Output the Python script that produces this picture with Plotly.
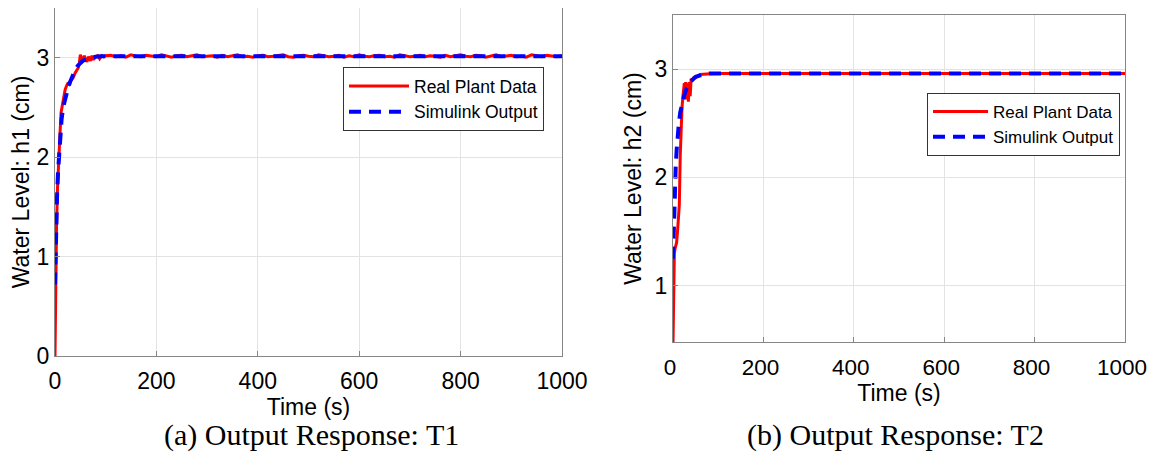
import plotly.graph_objects as go

# page body has an 8px default margin; the figure is sized to fit inside the window
OFF = 8
W, H = 1155 - 2 * OFF, 461 - 2 * OFF

# ---------------- data: (a) T1 ----------------
t1_real = [0, 1, 2, 3, 5, 7, 10, 12, 15, 18, 20, 23, 25, 28, 30, 33, 36, 40, 43, 46, 48,
           50, 52, 55, 58, 60, 63, 66, 70, 73, 76, 80, 84, 88, 92, 96,
           100, 110, 120, 130, 140, 150, 160, 170, 180, 190, 200, 210, 220, 230, 240, 250,
           260, 270, 280, 290, 300, 310, 320, 330, 340, 350, 360, 370, 380, 390, 400, 410,
           420, 430, 440, 450, 460, 470, 480, 490, 500, 510, 520, 530, 540, 550, 560, 570,
           580, 590, 600, 610, 620, 630, 640, 650, 660, 670, 680, 690, 700, 710, 720, 730,
           740, 750, 760, 770, 780, 790, 800, 810, 820, 830, 840, 850, 860, 870, 880, 890,
           900, 910, 920, 930, 940, 950, 960, 970, 980, 990, 1000]
h1_real = [0.0, 0.6, 1.0, 1.3, 1.7, 2.0, 2.25, 2.45, 2.55, 2.62, 2.68, 2.72, 2.74, 2.73, 2.76, 2.78, 2.8, 2.85, 2.88, 2.9, 2.95,
           3.03, 3.0, 2.97, 3.02, 2.98, 2.96, 3.01, 2.97, 3.02, 2.98, 3.01, 3.02, 2.99, 3.02, 3.01,
           3.02, 3.025, 3.01, 3.02, 3.005, 3.03, 3.015, 3.01, 3.025, 3.02, 3.01, 3.03, 3.015, 3.005, 3.02, 3.025,
           3.01, 3.02, 3.03, 3.01, 3.015, 3.02, 3.005, 3.025, 3.01, 3.02, 3.03, 3.01, 3.015, 3.005, 3.02, 3.025,
           3.01, 3.015, 3.02, 3.03, 3.01, 3.005, 3.02, 3.025, 3.015, 3.01, 3.03, 3.02, 3.01, 3.015, 3.025, 3.005,
           3.02, 3.01, 3.03, 3.015, 3.01, 3.02, 3.025, 3.01, 3.015, 3.005, 3.03, 3.02, 3.01, 3.015, 3.025, 3.01,
           3.02, 3.015, 3.005, 3.025, 3.01, 3.02, 3.03, 3.015, 3.01, 3.025, 3.02, 3.005, 3.015, 3.03, 3.01, 3.02,
           3.025, 3.01, 3.015, 3.005, 3.03, 3.02, 3.01, 3.025, 3.015, 3.01, 3.02]
t1_sim = [0, 1, 2, 4, 6, 8, 10, 13, 16, 20, 25, 30, 35, 40, 45, 50, 55, 60, 70, 80, 90, 100, 1000]
h1_sim = [0.72, 1.0, 1.3, 1.6, 1.85, 2.05, 2.2, 2.38, 2.5, 2.6, 2.68, 2.76, 2.83, 2.88, 2.92, 2.95, 2.97, 2.98,
          3.0, 3.01, 3.015, 3.015, 3.015]

# ---------------- data: (b) T2 ----------------
t2_real = [0, 1, 2, 3, 5, 8, 10, 12, 14, 16, 18, 20, 22, 25, 27, 28, 30, 32, 34, 36, 38, 40, 43, 46, 50,
           55, 60, 70, 80, 90, 100, 1000]
h2_real = [0.45, 0.9, 1.15, 1.3, 1.35, 1.4, 1.5, 1.6, 1.75, 2.2, 2.5, 2.65, 2.75, 2.87, 2.8, 2.88, 2.72, 2.87,
           2.7, 2.88, 2.75, 2.9, 2.9, 2.92, 2.92, 2.94, 2.95, 2.955, 2.96, 2.96, 2.96, 2.96]
t2_sim = [0, 2, 4, 6, 8, 10, 13, 16, 20, 25, 30, 35, 40, 50, 60, 70, 80, 100, 1000]
h2_sim = [1.25, 1.6, 1.9, 2.1, 2.25, 2.38, 2.5, 2.6, 2.68, 2.76, 2.82, 2.86, 2.89, 2.93, 2.945, 2.955, 2.96, 2.96, 2.96]

x_ticks = [0, 200, 400, 600, 800, 1000]
y1_ticks = [0, 1, 2, 3]
y2_ticks = [1, 2, 3]
captions = ["(a) Output Response: T1", "(b) Output Response: T2"]
legend_names = ["Real Plant Data", "Simulink Output"]

RED = "#ff0000"
BLUE = "#0000ff"
SANS = "Liberation Sans, Arial, Helvetica, sans-serif"
SERIF = "Liberation Serif, serif"

fig = go.Figure()

fig.add_trace(go.Scatter(x=t1_real, y=h1_real, mode="lines", name=legend_names[0],
                         line=dict(color=RED, width=3), xaxis="x", yaxis="y", legend="legend"))
fig.add_trace(go.Scatter(x=t1_sim, y=h1_sim, mode="lines", name=legend_names[1],
                         line=dict(color=BLUE, width=4, dash="12px,8px"), xaxis="x", yaxis="y", legend="legend"))
fig.add_trace(go.Scatter(x=t2_real, y=h2_real, mode="lines", name=legend_names[0],
                         line=dict(color=RED, width=3), xaxis="x2", yaxis="y2", legend="legend2"))
fig.add_trace(go.Scatter(x=t2_sim, y=h2_sim, mode="lines", name=legend_names[1],
                         line=dict(color=BLUE, width=4, dash="12px,8px"), xaxis="x2", yaxis="y2", legend="legend2"))

def px_x(p):
    return (p - OFF) / W

def px_y(p):
    return 1 - (p - OFF) / H

axis_common = dict(showline=True, mirror=True, linecolor="#868686", linewidth=1.3,
                   showgrid=True, gridcolor="#e3e3e3", gridwidth=1, automargin=False,
                   ticks="inside", ticklen=5, tickcolor="#868686", zeroline=False,
                   ticklabeloverflow="allow",
                   tickfont=dict(family=SANS, size=23, color="#000"))

fig.update_layout(
    width=W, height=H,
    paper_bgcolor="white", plot_bgcolor="white",
    margin=dict(l=0, r=0, t=0, b=0, autoexpand=False),
    xaxis=dict(domain=[px_x(55), px_x(562)], range=[0, 1000], tickvals=x_ticks, anchor="y",
               ticklabelstandoff=4,
               title=dict(text="Time (s)", font=dict(family=SANS, size=23, color="#000"), standoff=0),
               **axis_common),
    yaxis=dict(domain=[px_y(356), px_y(8)], range=[0, 3.5], tickvals=y1_ticks, anchor="x",
               title=dict(text="Water Level: h1 (cm)", font=dict(family=SANS, size=23, color="#000"), standoff=6),
               **axis_common),
    xaxis2=dict(domain=[px_x(673), px_x(1125)], range=[0, 1000], tickvals=x_ticks, anchor="y2",
                ticklabelstandoff=5, ticklabelshift=-3,
                title=dict(text="Time (s)", font=dict(family=SANS, size=23, color="#000"), standoff=2),
                **{**axis_common, "tickfont": dict(family=SANS, size=22.5, color="#000")}),
    yaxis2=dict(domain=[px_y(342), px_y(15)], range=[0.48, 3.5], tickvals=y2_ticks, anchor="x2",
                title=dict(text="Water Level: h2 (cm)", font=dict(family=SANS, size=23, color="#000"), standoff=6),
                **axis_common),
    legend=dict(x=px_x(343), y=px_y(67), xanchor="left", yanchor="top", itemwidth=60,
                bgcolor="white", bordercolor="#333", borderwidth=1,
                font=dict(family=SANS, size=17.5, color="#000"), tracegroupgap=0),
    legend2=dict(x=px_x(927), y=px_y(93), xanchor="left", yanchor="top", itemwidth=55,
                 bgcolor="white", bordercolor="#333", borderwidth=1,
                 font=dict(family=SANS, size=17, color="#000"), tracegroupgap=0),
    showlegend=True,
)

fig.add_annotation(text=captions[0], x=px_x(311), y=px_y(435), xref="paper", yref="paper",
                   xanchor="center", yanchor="middle", borderpad=0,
                   showarrow=False, font=dict(family=SERIF, size=30, color="#000"))
fig.add_annotation(text=captions[1], x=px_x(895), y=px_y(435), xref="paper", yref="paper",
                   xanchor="center", yanchor="middle", borderpad=0,
                   showarrow=False, font=dict(family=SERIF, size=30, color="#000"))

fig.write_html("out.html")
